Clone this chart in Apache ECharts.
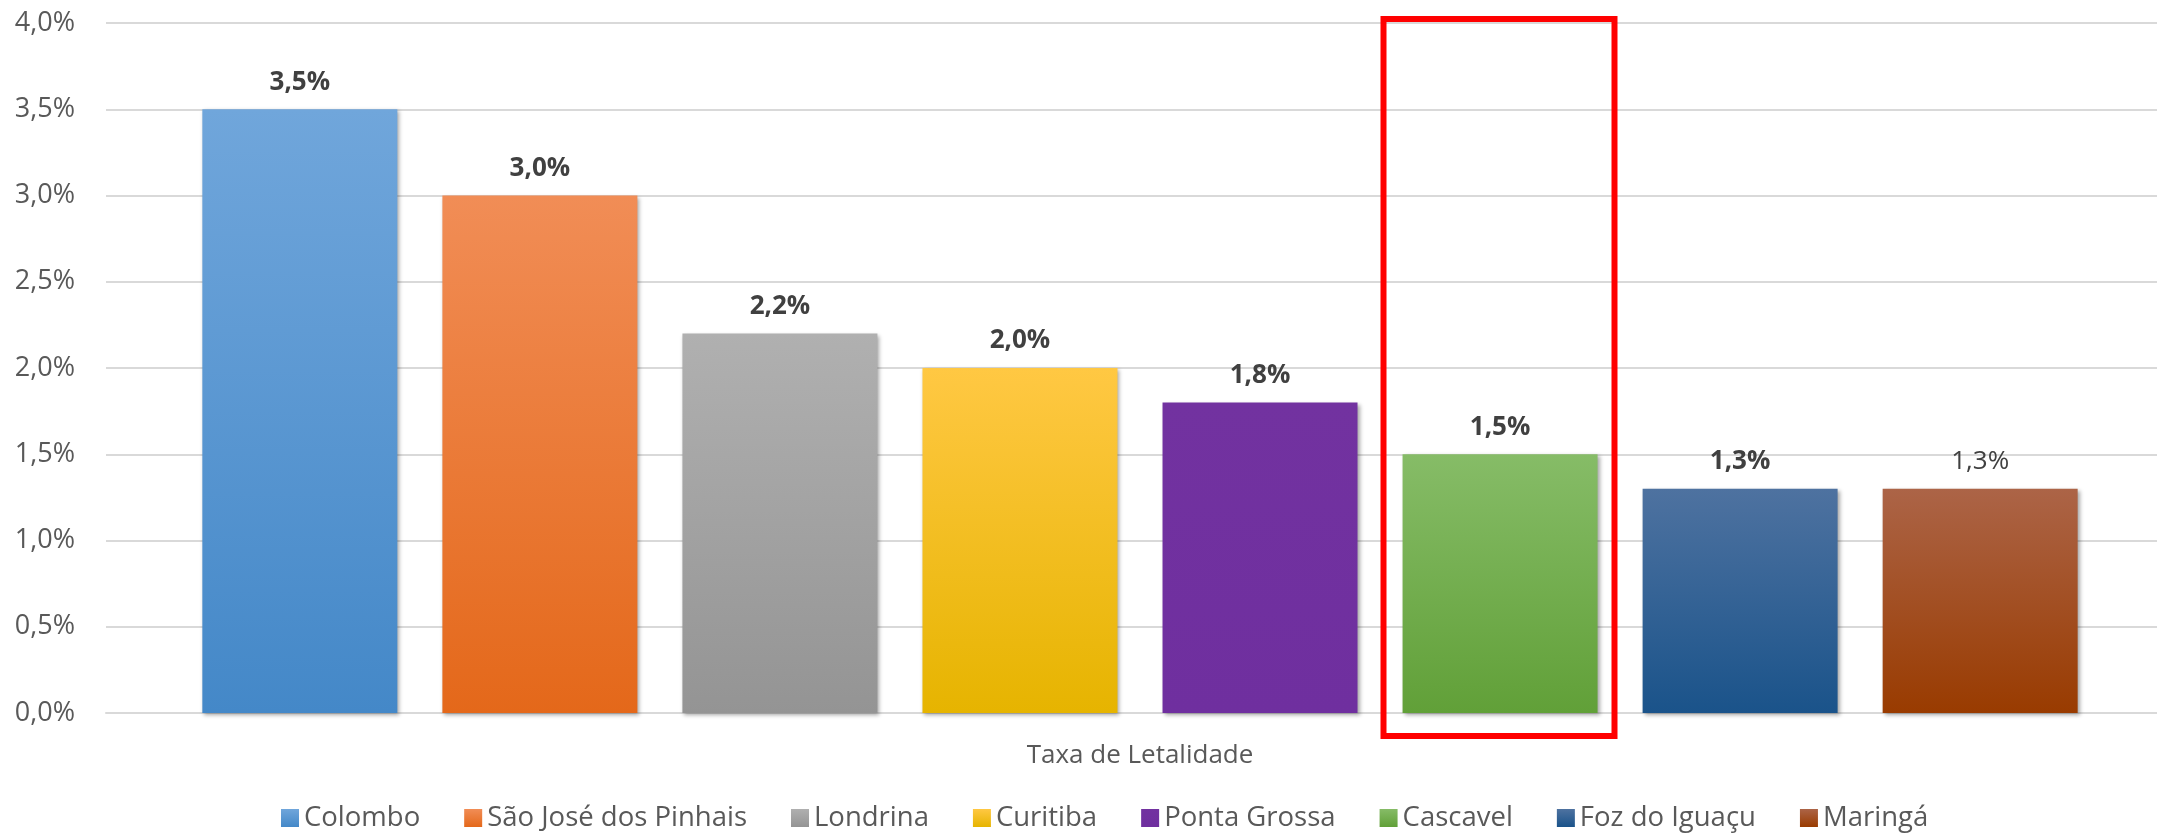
<!DOCTYPE html>
<html>
<head>
<meta charset="utf-8">
<title>Taxa de Letalidade</title>
<script src="https://cdn.jsdelivr.net/npm/echarts@6/dist/echarts.min.js"></script>
<style>
    html, body { margin: 0; padding: 0; background: #fff; overflow: hidden; }
    /* a área do gráfico passa um pouco da borda direita da imagem */
    #main { width: 2174px; height: 833px; }
</style>
</head>
<body>
<div id="main"></div>
<script>
// dados
var categorias = ['Taxa de Letalidade'];
var cidades = ['Colombo', 'São José dos Pinhais', 'Londrina', 'Curitiba', 'Ponta Grossa', 'Cascavel', 'Foz do Iguaçu', 'Maringá'];
var taxas = [3.5, 3.0, 2.2, 2.0, 1.8, 1.5, 1.3, 1.3];
var ticksY = [0, 0.5, 1.0, 1.5, 2.0, 2.5, 3.0, 3.5, 4.0];

// cores (topo / base do degradê)
var corTopo = ['#70a6db', '#f18d56', '#b0b0b0', '#ffc843', '#7232a0', '#86bc67', '#4e72a0', '#ac6447'];
var corBase = ['#4488c8', '#e4681a', '#949494', '#e6b400', '#6f2f9f', '#61a038', '#1a538a', '#993b00'];

var larguraBarra = 195;
var espaco = 45;
var fonte = '"Open Sans", sans-serif';

function fmt(v) {
    return v.toFixed(1).replace('.', ',') + '%';
}

var barCharts = function () {
    var myChart = echarts.init(document.getElementById('main'));

    var series = [];
    cidades.forEach(function (nome, i) {
        series.push({
            name: nome,
            type: 'bar',
            data: [taxas[i]],
            barWidth: larguraBarra,
            barGap: (espaco / larguraBarra * 100).toFixed(1) + '%',
            itemStyle: {
                color: new echarts.graphic.LinearGradient(0, 0, 0, 1, [
                    {offset: 0, color: corTopo[i]},
                    {offset: 1, color: corBase[i]}
                ]),
                shadowColor: 'rgba(0,0,0,0.35)',
                shadowBlur: 4,
                shadowOffsetX: 2,
                shadowOffsetY: 2
            },
            label: {
                show: true,
                position: 'top',
                distance: 14,
                color: '#404040',
                fontFamily: fonte,
                fontSize: 26,
                // o último rótulo não está em negrito
                fontWeight: i === cidades.length - 1 ? 'normal' : 'bold',
                formatter: function (p) { return fmt(p.value); }
            }
        });
    });

    var option = {
        animation: false,
        backgroundColor: '#fff',
        grid: {left: 106, right: 0, top: 23, bottom: 120, containLabel: false},
        legend: {
            data: cidades,
            left: 276,
            top: 799,
            icon: 'rect',
            itemWidth: 18,
            itemHeight: 18,
            itemGap: 44,
            textStyle: {color: '#595959', fontFamily: fonte, fontSize: 27.5}
        },
        xAxis: {
            type: 'category',
            data: categorias,
            axisLine: {lineStyle: {color: '#d9d9d9', width: 2}},
            axisTick: {show: false},
            axisLabel: {color: '#595959', fontFamily: fonte, fontSize: 26, margin: 30}
        },
        yAxis: {
            type: 'value',
            min: ticksY[0],
            max: ticksY[ticksY.length - 1],
            interval: 0.5,
            axisLine: {show: false},
            axisTick: {show: false},
            splitLine: {lineStyle: {color: '#d9d9d9', width: 2}},
            axisLabel: {
                color: '#595959',
                fontFamily: fonte,
                fontSize: 27,
                margin: 31,
                formatter: function (v) { return fmt(v); }
            }
        },
        series: series
    };
    myChart.setOption(option);

    // retângulo vermelho de destaque em volta de Cascavel
    var idx = cidades.indexOf('Cascavel');
    var centro = myChart.convertToPixel({xAxisIndex: 0}, categorias[0]);
    var total = cidades.length * larguraBarra + (cidades.length - 1) * espaco;
    var x0 = centro - total / 2 + idx * (larguraBarra + espaco);
    var yTopo = myChart.convertToPixel({yAxisIndex: 0}, ticksY[ticksY.length - 1]);
    var yBase = myChart.convertToPixel({yAxisIndex: 0}, 0);
    myChart.setOption({
        graphic: [{
            type: 'rect',
            shape: {x: x0 - 19, y: yTopo - 4, width: larguraBarra + 36, height: yBase - yTopo + 27},
            style: {fill: 'none', stroke: '#ff0000', lineWidth: 6},
            z: 100
        }]
    });
}

barCharts();
</script>
</body>
</html>
